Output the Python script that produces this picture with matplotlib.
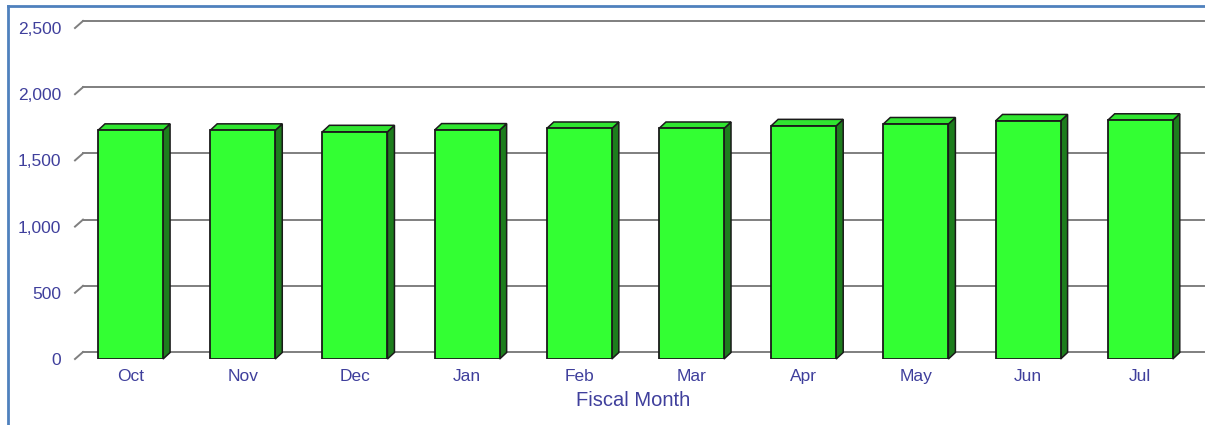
import matplotlib
matplotlib.use("Agg")
import matplotlib.pyplot as plt
import matplotlib.transforms as mtransforms
from matplotlib.patches import Polygon
from matplotlib.lines import Line2D
import numpy as np

months = ["Oct", "Nov", "Dec", "Jan", "Feb", "Mar", "Apr", "May", "Jun", "Jul"]
values = [1727, 1727, 1716, 1729, 1741, 1741, 1761, 1775, 1798, 1803]
yticks = [0, 500, 1000, 1500, 2000, 2500]
xlabel = "Fiscal Month"

W, H, DPI = 1205, 425, 100
plt.rcParams['font.family'] = ['Liberation Sans', 'DejaVu Sans']
fig = plt.figure(figsize=(W / DPI, H / DPI), dpi=DPI)

# axes: front plane
left_px, right_px = 75, 1196
bot_px, top_px = 359, 28  # from top
ax = fig.add_axes([left_px / W, (H - bot_px) / H, (right_px - left_px) / W, (bot_px - top_px) / H])
ax.set_xlim(-0.495, 9.497)
ax.set_ylim(0, 2500)
for s in ax.spines.values():
    s.set_visible(False)

label_color = '#3f3f9c'
grid_dx, grid_dy = 8, 7
bar_dx, bar_dy = 7, 6.5

x = np.arange(len(months))
width = 0.58

# gridlines on back wall
grid_off = mtransforms.ScaledTranslation(grid_dx / DPI, grid_dy / DPI, fig.dpi_scale_trans)
btrans = mtransforms.blended_transform_factory(ax.transAxes, ax.transData)
for v in yticks:
    ax.plot([0, 1], [v, v], transform=btrans + grid_off, color='#7f7f7f', lw=1.4,
            clip_on=False, zorder=1)
    p0 = btrans.transform((0, v))
    ax.add_line(Line2D([p0[0], p0[0] + grid_dx], [p0[1], p0[1] + grid_dy],
                       transform=mtransforms.IdentityTransform(), color='#7f7f7f', lw=1.4,
                       clip_on=False, zorder=1))

ax.set_yticks(yticks)
ax.set_yticklabels([f"{v:,}" for v in yticks])
ax.tick_params(axis='y', length=0, pad=10, labelsize=12.5, labelcolor=label_color)
ax.set_xticks(x)
ax.set_xticklabels(months)
ax.tick_params(axis='x', length=0, pad=7, labelsize=12.5, labelcolor=label_color)

# bars (front faces)
bars = ax.bar(x, values, width=width, color='#33ff33', edgecolor='#1a1a1a', linewidth=1.3, zorder=4)

# 3D faces
inv = ax.transData.inverted()
for xi, v in zip(x, values):
    xl, xr = xi - width / 2, xi + width / 2
    fr_b = ax.transData.transform((xr, 0))
    fr_t = ax.transData.transform((xr, v))
    fl_t = ax.transData.transform((xl, v))
    off = np.array([bar_dx, bar_dy])
    side = inv.transform(np.array([fr_b, fr_t, fr_t + off, fr_b + off]))
    top = inv.transform(np.array([fl_t, fr_t, fr_t + off, fl_t + off]))
    ax.add_patch(Polygon(side, closed=True, facecolor='#1d7d1d', edgecolor='#1a1a1a',
                         linewidth=1.1, zorder=3, clip_on=False))
    ax.add_patch(Polygon(top, closed=True, facecolor='#30e530', edgecolor='#1a1a1a',
                         linewidth=1.1, zorder=3, clip_on=False))

fig.text(633 / W, 1 - 401 / H, xlabel, ha='center', va='center', fontsize=14.5, color=label_color)

# outer frame (top and left)
border = '#4f81bd'
fig.add_artist(Line2D([8 / W, 1], [1 - 6 / H, 1 - 6 / H], transform=fig.transFigure, color=border, lw=2))
fig.add_artist(Line2D([8 / W, 8 / W], [0, 1 - 6 / H], transform=fig.transFigure, color=border, lw=2))

fig.savefig("out.png", dpi=DPI)
